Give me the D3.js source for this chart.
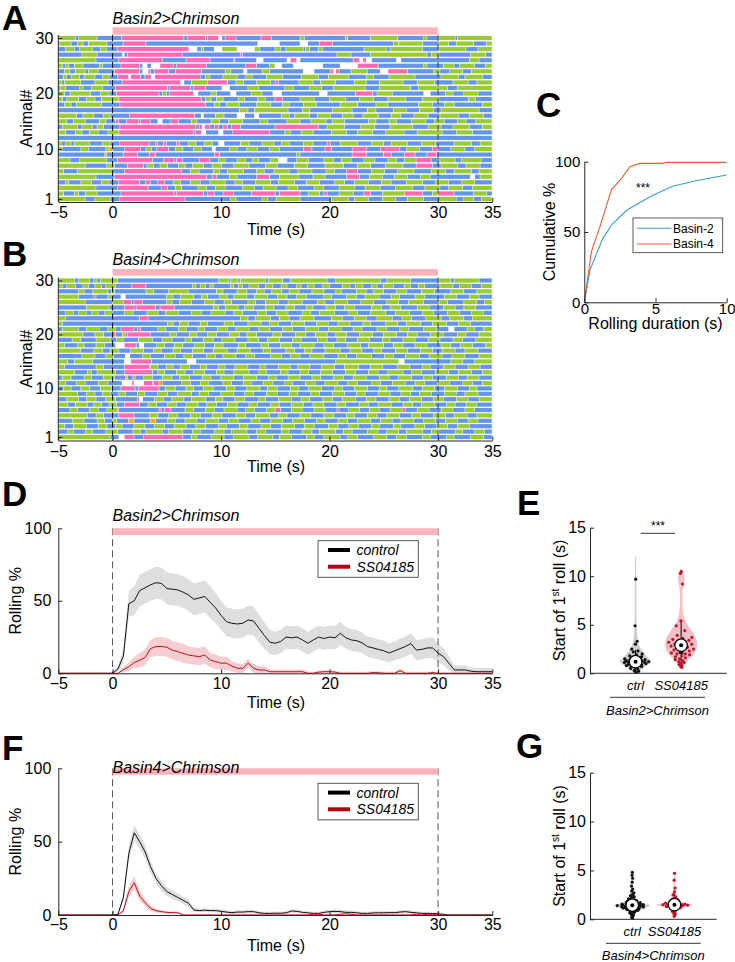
<!DOCTYPE html>
<html><head><meta charset="utf-8">
<script src="https://cdn.jsdelivr.net/npm/d3@7"></script>
<style>
body{margin:0;background:#fff}
svg{display:block}
</style></head><body>
<svg id="fig" width="735" height="962"></svg>
<script>
// ---------------- DATA ----------------
const timeTicks = [-5, 0, 10, 20, 30, 35];
const animalTicks = [1, 10, 20, 30];
const stimWindow = [0, 30];
const behaviourCodes = {g: "crawl", b: "turn", p: "roll", w: "none", o: "back-up"};

// Ethogram rows: "colour startTime" tokens, first row = animal 30
const rowsA = [
"g-5 b-3.4 g-3.1 b-1.4 p.85 b6.6 p6.9 b8.6 p8.8 w9.8 b10.1 p10.4 b11.4 p13.7 b14.7 g17.3 b17.7 g21.5 b21.7 g23.8 b26.3 g28.7 b29 g30.1 b31.6 g31.8",
"b-5 g-4.9 b-3.8 g-3.2 b-2.7 g-2.2 b-.5 p1 b3.1 w13.4 b15.4 w17.3 b18 p19.1 b20.3 g25.9 b26.4 g26.5 b28.6 g30.1 b31 g31.7 b33.3 g34.5",
"b-5 g-4.3 b-3.5 g-3 b-1.8 g-1.1 b-.5 p.45 w7.05 b7.8 g8.2 b8.4 w9.4 g10.1 w11.5 g13.1 b13.6 g15 b15.5 g16 b17.6 g17.8 b18.2 g19 b19.4 g23.2 b25.3 g25.6 b28.6 g30.1 b32.6 g33.7",
"b-5 g-2.8 b-1.4 w.95 b1.1 p1.4 b6.45 p11.8 b12 g20.7 b22 g23.8 b29 g29.4 b30.1 g33 b34.4",
"g-5 b-1.5 p.6 b4.6 p6.8 b9 p11.2 b11.3 w13.3 b13.9 w16.1 p16.4 w17 b17.3 p22.2 w22.8 p23.1 w23.4 b23.9 w26.2 b26.6 g32.9 b33.8",
"g-5 b-4.6 g-4.3 b-4 g-3.5 b-2.7 g-1.2 b-.9 p.8 b2.5 w2.8 b3.2 w3.6 p4.4 b5.6 p5.9 b8.7 p12.3 b13.3 g14.5 w15 b15.6 w16.7 b19.4 w21 p22.6 b24.5 g28.7 b29 g30.5 b31.5 g32 b33.4 g34.4",
"b-5 g-4.4 b-3.9 g-3.4 b-2.5 g-2.2 b-1.3 p.2 b2.5 w2.8 p3.3 b3.5 p3.9 b5.2 p5.8 b8.2 g10.4 b10.9 w12.1 b12.4 g13.8 b14.5 w17.6 b18.6 p20.1 w20.4 p20.6 b20.9 g22 b23.5 w24.7 p25.4 b27.2 g29.6 b30.2 g31.1 b32.3 g33.1",
"b-5 g-4.5 b-4.2 g-3.8 b-3 g-2.6 b-1.6 g-.9 b-.3 p.5 w1.5 p1.7 b2.6 p3 w3.6 p3.9 b8.1 g8.6 b9 g10.2 b11.5 g12.3 b12.9 g14.2 b15.7 g17.4 b19 g19.9 b21.8 g23.4 b24.1 g25.5 b27.9 g30.3 b31.9 g32.5 b34.1",
"g-5 b-4.7 g-4.4 b-2.9 g-1.6 b-.4 p.9 w6.3 b6.6 g7.3 p8.8 b10.6 g11.4 b12.1 g13.3 b14.6 p15 b15.3 g17.2 b18.5 g19.2 b20.6 g22.3 b23.4 g24.6 b26.8 g28.1 b29.7 g31.4 b32.8 g33.6",
"b-5 g-4.8 b-4.3 g-3 b-2.7 g-1.9 b-.9 p.3 b5.1 p5.3 b7.2 p7.5 b8.6 w10.1 b10.8 g12.5 b13.5 g15.9 b16.7 g18.2 b19.3 g20.4 b23.3 g24.6 b27.5 g28.2 b30.9 g31.8",
"g-5 b-4.4 g-3.9 b-2 g-1.1 b-.3 p.4 b4.3 g4.6 b5 p5.3 w7.5 b7.9 g9.1 b9.6 w10.9 b11.4 g12.8 b13.8 w14.8 b15.6 w19.1 b19.8 p22.4 b24 g24.4 b25.8 w28.7 b29.3 g30.7 b31.4 g32.4 b33.7",
"g-5 b-4.6 g-4.2 b-3.1 g-2.4 b-1.6 g-1 p.6 b8.2 g8.6 b9.1 g9.6 b10.2 g11.6 b12.2 g13.4 b14.1 p15 b15.7 g17.3 b18.6 g20 b21.5 g22.8 b24.1 g25.4 b27 g28.6 b30.1 g32.8 b33.5",
"b-5 g-4.4 b-3.8 g-3.3 b-1 p.7 b8.6 g9.4 b9.9 g10.5 b11.7 g13.3 b14.6 g15.7 b16.3 g17.6 b18.8 g21 b22.6 g24.3 b25.4 g28.2 b29.5 g30.6 b31.5 g34.1",
"b-5 g11.7 b12.5 g13.1 b16.2 g17.5 b18.2 g20.3 b22.1 g23.5 b24.3 g25.9 b27.1 g28.3 b29.6 g30.3 b33.8",
"g-5 b-3.3 g-2.7 b-1.7 g-.8 b-.2 p1.6 b7.6 w8.2 b8.4 g9.5 b10.3 w11.5 b12.2 w13.1 b13.5 g15.6 b16.3 g16.8 b18.2 g18.9 b20.1 g21.2 b22.2 g23.1 b24.5 g25.7 b26.6 g27.8 b29.1 g30.2 b31.9 g32.9 b34.2",
"g-5 b-4.2 g-3.6 b-2.5 g-1.2 b-.6 p.3 b.6 p1.3 b2.4 p2.6 b3.5 w4.2 b4.6 p5.4 b6.1 g7.3 b7.8 g9.1 b9.9 g10.7 b12 g13.6 b14.3 g16.1 b17.3 g18.3 b19.7 g20.3 b21.4 g23.6 b24.3 g25.5 b26.2 g27.6 b28.9 g29.7 b30.6 g31.8 b32.6 g33.5",
"b-5 g-4.6 b-3.2 g-2.8 b-1.8 g-1.4 b-.8 p.7 b7.7 p8 w8.3 p8.5 b9 p9.4 b9.8 p10.2 b10.6 p11 b11.8 p15 b19 g19.8 b21.4 g22.9 b24.2 g25.6 b27.7 g29.1 b30.3 g31.4 b32.9 g34.1",
"g-5 b-4.3 g-3.4 b-2.8 g-2.1 b-1.3 g-.4 p.6 b7.5 p7.7 w8.2 b8.6 w9.8 b10.2 p11.1 b14.5 g15.9 b16.4 g17.4 b18.5 g20.2 b21.6 g22.6 b24 g25.2 b26.9 g28.1 b30.4 g31.7 b33.2",
"b-5",
"g-5 b-4.7 g-4.3 b-3.8 g-3.5 b-2.1 g-.9 b-.2 p.7 b3.4 p4 b4.2 p4.7 b5 p5.9 b6.2 g7 b7.7 g8.5 b9.2 w9.8 b10.3 g11.8 b12.6 g13.8 b14.9 g15.6 b16.3 g17.6 b18.5 p19.8 b20.1 g21 b22.6 g23.9 b25 g25.7 b27.2 g28.5 b29.8 g31.5 b33.1 g33.9",
"g-5 b-4.6 g-2.9 b-2.2 g-.6 o-.3 b0 p1.1 b2.6 g3.1 b3.6 p4.1 b5.2 g5.8 b6.5 g7.5 b8.2 w9.2 b9.5 g10.8 b11.5 g12.4 b13.4 g14.5 b15.4 p17.6 b18.4 p19.6 b20.2 p22.1 b23.4 p24.7 b26.5 g27.1 b28.3 p29.5 b30 g31.2 b32.5 g33.4",
"b-5 o-.7 b-.5 p1 b2.3 p3.4 b4 p9.4 b9.9 g17 b17.3 p22.1 b23.4 p25 b25.7 p26.9 b27.9 p29 b29.9",
"g-5 b-3.9 g-3 b-.5 p.5 b3.7 p4.7 b5.7 p5.9 b6.5 p8 b9 g9.8 b10.4 g11.5 b12.3 g12.9 b13.5 g14.6 w15.3 b16.1 g17 b18.1 g19.5 b20.4 g21.1 b22 g23.2 b24.2 g25.4 b26.2 g26.9 p28 b29.4 g30.2 b31.6 g32.2 b34",
"g-5 b-2.5 g-.5 b.2 p1.4 b2.9 g3.2 b3.8 g4.4 b5.1 g6.1 b6.7 g7.4 b8.4 g9.2 b10.1 g11.2 b12.6 g14.1 b15.2 g16.8 b18 g19.6 b21.3 g22.6 b23.8 g25.2 b26.8 p28 b29.5 g30.3 b31.8 g32.6 b33.9",
"g-5 b-4.5 g-3.2 b0 p1.1 b6.4 g7.2 b8 g9.3 b9.9 g10.6 b12.1 g13.3 b14 g14.9 b16.3 g17.1 b18.4 g19.7 b20.5 p21.6 b22.6 g23.9 b25.1 g26.3 b27.8 g29.4 b30.7 g31.5 b33.1 g33.8",
"g-5 b-1.5 p.2 b8.7 p9.2 b9.6 g10.8 b11.5 p13.3 b14.5 g15.4 b17.2 g18.5 b19.6 p21.6 b22.8 g23.7 b24.9 g26 b27.2 g28.4 b29.3 w33 b33.4 g33.9",
"b-5 g-4.3 b-4 g-2.9 b-1.9 g-1 b-.3 p.6 b2.5 p3.1 b3.5 p4.2 b4.8 g5.6 b6.3 g7.2 b8.1 g9 b10.4 g11.3 b12 g13.2 b14.6 g15.3 b16.8 g17.9 b19.1 g20.5 b21.4 g22.3 b23.6 g24.8 b25.7 g27.1 b28.6 g29.8 b31 g32.2 b33.4",
"g-5 b-1.5 p.5 b3.3 p4.5 b5.1 g5.8 b6.4 g7.9 b8.7 g9.5 b10.4 g12 b13.1 g13.9 b15.1 g16.2 b17.1 g18.6 b19.5 g20.9 b22.3 g23.3 b24.7 g26.1 b27.7 g28.8 b30.2 g31 b32.3 g33.2",
"g-5 b-4.5 g-3.5 b-3.1 g-2.5 b-1.4 p.8 b5.7 p5.9 b8.4 p8.8 b9.4 p10.2 b11.2 p12.8 b15 p15.4 b17.3 g18.1 b19.1 p19.5 b19.8 g20.9 b22.2 p23.2 b23.8 g24.9 p26.9 b28.6 g29.5 p30 b31.5 g33.3 b34.5",
"g-5 b-2.5 g-1.6 b-.2 p.7 b6.7 g10.9 b11.4 g13.8 b14.3 g15.1 b17.3 g20.2 b21.8 g22.3 b23.6 g24.9 b26.1 g27.2 b28.7 g30 b31.7 g32.4 b33.3 g34"
];

const rowsB = [
"g-5 b-3.5 g-3.1 b-2.1 g-1.7 b-1.4 g-1.1 b.5 g9.8 b10.7 g10.9 b11.6 g11.8 b14.1 g14.4 b15.7 g16.4 b19.8 g20.6 b24.7 g25.3 b27.5 g30.1 b31.2 g31.5 b33.8",
"g-5 b-4.6 g-4.2 b-3.4 g-2.7 b-2.2 g-1.6 b-1 g-.6 b.3 p1.8 b3.1 g7.4 b7.7 g8.1 b8.6 g9 b9.3 g10.9 b11.2 g11.6 b12 g12.6 b13.5 g14.1 b14.8 g15.6 b16.1 g17 b17.4 g18 b18.6 g19.4 b20 g21.2 b21.9 g22.4 b23.1 g23.9 b24.4 g25 b25.9 g26.9 b27.5 g28.2 b28.8 g30.2 b31.4 g32 b33.1 g34",
"b-5 g-3.1 b-2.6 g-1.8 b-.4 g-.1 b.2 g3.1 b3.8 g5.2 b7 g9.6 b10.2 g11.5 b12.4 g13.3 b14 g14.7 b15.6 g16.3 b17.2 g18.4 b19.5 g20.6 b21.1 g22.5 b23.4 g24.1 b25 g26.2 b27.1 g28.5 b29.7 g31.2 b32.4 g33.6",
"g-5 b-3.1 p-1.7 b-1.5 g-.4 b0 w.8 b1.2 g5 b5.6 g6.3 b7.5 g8.2 b8.8 g9.9 b10.6 g11.2 b12.4 g13.1 b14.3 g15.2 b16.1 g17 b17.9 g19.5 b20.2 g21.6 b22.5 g23.3 b24.6 g25.7 b26.5 g27.9 b28.8 g30.6 b31.7 g32.9 b33.8",
"g-5 b-2.5 g0 p1 b1.75 p2 b2.8 g5 b5.5 g6.2 b7.3 g8.5 b9.4 g10.3 b11 g12.5 b13.2 g14.1 b15.3 g16.2 b17.5 g18.9 b19.6 g20.5 b21.7 g22.9 b24.1 g25.3 b26.4 g27.3 b28.7 g30.1 b30.9 g32.4 b33.6 g34.3",
"b-5 g-2.4 b-.3 p1.1 b2 p2.2 b4 p4.4 b5.7 g9.3 b9.8 g10.4 b11.6 g12.2 b13 g14.1 b14.9 g16 b16.8 g17.9 b18.5 g19.7 b20.6 g21.4 b22.3 g23.9 b24.8 g25.6 b26.6 g28.1 b29.2 g30.5 b31.6 g32.4 b33.5",
"b-5 g-4.3 b-3.6 g-3.1 b-2.4 g-1.9 b-1.3 g-.7 b0 g1.1 b1.9 g3.2 b4.2 g4.9 b6.1 g7.3 b8.2 g9.1 b10.4 g11.2 b12 g13.4 b14.2 g15.1 b16.2 g17.5 b18.3 g19.1 b20.5 g21.8 b22.6 g23.8 b25.2 g26.1 b27.4 g28.6 b29.6 g30.9 b32 g33.1 b34.2",
"g-5 b-4.3 p2.5 b3.3 g11.8 b12.5 g13.2 b14.6 g15.4 b16.3 g17.3 b18.6 g20.2 b21.2 g22.3 b23.4 g24.4 b25.8 g26.7 b27.6 g28.9 b30.3 g31.1 b32.4 g33.2",
"g-5 b-4.6 g5.1 b5.6 g6.2 b7 g8.1 b8.8 g10.3 b11.2 g12.5 b13.7 g14.5 b15.3 g16.5 b17.7 g18.8 b19.9 g20.8 b21.9 g23.1 b23.8 g25.2 b26.3 g27.1 b28.4 g29.5 b30.8 g31.9 b33",
"b-5 g-4.6 b-3.1 g-2.4 b-1.2 g-.4 b.3 p.8 b2 p2.3 b2.6 g4.2 b4.9 g6.1 b6.8 g7.9 b8.5 g9.7 b10.6 g11.4 b12.6 g13.5 b14.5 g15.7 b16.6 g17.8 b19 g19.9 b21.1 g22.2 b23 g24.4 b25.3 g26.5 b27.3 g28.7 b29.9 w31 b31.5 g32.7 b33.4 g34.2",
"g-5 b-2.7 g-1.6 b-.8 p0 b.3 o.9 b1.2 p1.4 b3.5 g5.3 b5.9 g7.1 b7.8 g8.8 b9.6 g10.8 b11.7 g12.4 b13.3 g14.8 b15.6 g16.9 b17.8 g18.7 b19.8 g20.6 b21.6 g22.8 b24 g25 b26.2 g27.2 b28.1 g29.3 b30.5 g31.8 b32.6 g33.8",
"b-5 g-3.7 b-2.9 g-1.5 b-.2 g.4 b1 g2.4 b3.7 g4.6 b5.5 g6.7 b7.3 g8.4 b9.3 g10.1 b11.3 g12.5 b13.5 g14.3 b15.4 g16.6 b17.4 g18.9 b19.8 g20.7 b21.5 g22.6 b23.7 g24.9 b25.6 g26.8 b27.9 g29.1 b30.2 g31.4 b32.3 g33.5",
"g-5 b-4.4 g-3.2 b-2.6 g-1.5 b-.7 w.3 p1.1 b2.2 w2.5 b2.9 g4.1 b4.8 g5.7 b6.5 g7.6 b8.5 g9.4 b10.2 g11.6 b12.3 g13.7 b14.4 g15.5 b16.5 g17.3 b18.6 g19.5 b20.4 g21.7 b22.9 g23.6 b25 g25.9 b26.8 g27.9 b29 g30.3 b31.2 g32.1 b33.2 g34.4",
"g-5 b-2.9 g-1.7 b-.9 g-.2 b.6 g1.7 b2.9 g3.8 b4.5 g5.6 b6.3 g7.4 b8.4 g9.3 b10.6 g11.5 b12.7 g13.9 b14.6 g16 b16.8 g17.7 b18.4 g19.6 b21 g21.9 b23 g24.1 b24.8 g26.1 b27.2 g28.4 b29.5 g30.4 b31.6 g32.5 b33.7",
"b-5 g-2.8 b-1.6 g-.6 b.1 w1.2 b1.6 g2.8 b3.5 g4.8 b5.8 g6.6 b7.4 g8.7 b9.5 g10.2 b11.4 g12.3 b13.1 g14.6 b15.6 g16.4 b17.3 g18.2 b19.5 g20.8 b21.6 g22.5 b23.9 g25.1 b25.9 g27 b28.3 g29.2 b30.4 g31.3 b32.5 g33.8",
"g-5 b-4.1 g-3.5 b-1.8 w1.1 p1.7 b3.6 w6.9 b7.7 g20.6 w26.4 b26.9 g31.2 b32.3 g33.4",
"g-5 b-4.4 g-1.5 b-.8 p1.1 b3.4 g3.5 b4.2 g5 b5.6 g6.3 b7.1 g8.1 b8.7 g9.8 b10.4 g11.3 b12.5 g13.6 b14.1 g15.3 b16.4 g17.1 b18.2 g19.3 b20.5 g21.4 b22.7 g23.8 b24.9 g26.3 b27.4 g28.6 b29.3 g30.5 b31.6 g32.8 b33.9",
"g-5 b-3.5 g-2.3 b-1.9 g-1.4 b.3 p1.1 b3.7 g4.2 b4.8 g5.9 b6.7 g7.5 b8.5 g9.6 b10.3 g11.2 b12.6 g13.5 b14.2 g15.5 b16.2 g17.3 b18.1 g19.2 b20.3 g21.5 b22.4 g23.6 b24.5 g25.4 b26.8 g27.6 b28.5 g29.8 b31 g31.9 b33.1 g34.1",
"b-5 g-4.6 b-3.8 g-2.6 b-1.9 g-.8 b.2 o1.2 b1.4 o1.9 b2.1 g2.9 b3.7 g4.6 b5.5 g6.2 b7.1 g8.3 b9.1 g10 b11.2 g12.1 b13.3 g14.4 b15.1 g16.2 b17.3 g18.4 b19.2 g20.4 b21.3 g22.2 b23.4 g24.6 b25.5 g26.4 b27.6 g28.7 b29.5 g30.8 b31.9 g32.7 b33.8",
"g-5 b-4.3 g-3.3 b-2.5 g-1.3 b-.4 w.9 p1.8 w2 p2.9 b3.7 p3.8 o4.3 b4.6 g6.4 b7.2 g8.1 b8.9 g10.2 b11 g12.1 b12.8 g13.9 b14.8 g15.9 b16.6 g17.8 b18.7 g19.6 b20.8 g21.7 b22.6 g23.9 b24.7 g25.8 b27 g27.9 b28.8 g30 b31.1 g32.3 b33.2 g34.1",
"b-5 g-4.5 b-3.8 g-2.9 b-2.1 g-1.1 b-.1 p.8 b2.1 p2.4 b4.3 g4.9 b5.8 g6.8 b7.5 g8.4 b9.3 g10.5 b11.3 g12.4 b13.6 g14.3 b15.2 g16.4 b17.2 g18.1 b19.3 g20.5 b21.2 g22.3 b23.5 g24.6 b25.3 g26.4 b27.7 g28.6 b29.7 g30.6 b31.8 g32.9 b33.6",
"g-5 b-3.2 g-2.4 b-1.6 g-.9 b-.2 g.6 b1.2 g2.3 b3 g4.2 b5.1 g6 b7.3 g8 b8.9 g10 b11.2 g12.2 b13 g14.2 b15.2 g16.3 b17.1 g18.3 b19.1 g20.3 b21.4 g22.5 b23.3 g24.5 b25.6 g26.6 b27.5 g28.3 b29.4 g30.6 b31.7 g32.5 b33.7",
"b-5 g-4.2 b-3.1 g-2.4 b-1.5 g-.6 b.3 p2.3 w2.5 b2.8 g3.9 b4.7 g5.5 b6.6 g7.3 b8.6 g9.5 b10.2 g11.3 b12.2 g13.5 b14.1 g15.3 b16.5 g17.4 b18.2 g19.4 b20.3 g21.2 b22.4 g23.4 b24.3 g25.5 b26.5 g27.4 b28.5 g29.6 b30.5 g31.7 b32.8 g33.8",
"g-5 b-4.1 g-3.4 b-2.3 g-1.7 b-1 g-.3 b.4 p1.1 b2.5 g3.3 b4.1 g5.1 b5.9 g6.8 b7.9 g8.7 b9.6 g10.6 b11.5 g12.6 b13.4 g14.6 b15.4 g16.5 b17.6 g18.5 b19.5 g20.7 b21.5 g22.8 b23.6 g24.5 b25.7 g26.8 b27.7 g28.5 b29.7 g30.8 b31.6 g32.6 b33.6",
"b-5 g-3.9 b-3.2 g-2.1 b-1.3 g-.5 p.45 b.6 p4.3 b4.5 p4.8 b5.4 g6.7 b7.5 g8.6 b9.4 g10.3 b11.5 g12.3 b13.1 g14.2 p15 b15.5 g16.5 b17.5 g18.6 b19.6 p20.7 b20.9 g21.8 b22.8 g23.7 b24.6 g25.6 p26.7 b27 g28.1 b29.2 g30.3 b31.4 g32.5 b33.4",
"g-5 b-2.3 g-1.5 b-.8 p.6 b2 g3.4 b4.2 g5.2 b6 g7.2 b8.1 g9.2 b10.1 g11.4 b12.3 g13.2 b14.5 g15.3 b16.1 g17.3 b18.3 g19.5 b20.4 g21.6 b22.3 g23.5 b24.4 g25.3 b26.5 g27.6 b28.4 g29.6 b30.7 g31.5 b32.7 g33.6",
"b-5 g-3.7 b-2.6 g-1.4 b-.7 g0 b.4 o1.5 b2 o3.5 b4 g5.1 b5.8 g6.7 b7.8 g8.6 b9.8 g10.7 b11.6 g12.8 b13.6 g14.6 b15.7 g16.6 b17.7 g18.8 b19.6 g20.8 b21.7 g22.6 b23.8 g24.7 b25.8 g26.6 b27.8 g28.7 b29.8 g30.7 b31.8 g32.8 b33.7",
"g-5 b-4.4 g-3.6 b-2.4 g-1.3 b-.5 g.3 b.9 g2 b3 g3.9 b4.8 g5.7 b6.8 g7.7 b8.6 g9.8 b10.5 g11.7 b12.5 g13.7 b14.6 g15.6 b16.8 g17.7 b18.6 g19.9 b20.8 g21.8 b22.7 g23.9 b24.6 g25.9 b26.6 g27.9 b28.8 g29.9 b30.9 g31.8 b32.9",
"b-5 g-4.1 b-3.6 g-2.5 b-1.8 g-.6 b.5 g1.9 b2.6 g3.1 b4.6 g5.2 b6.5 g7.4 b8.1 g9.4 b10.3 g11 b12.4 g13.3 b14.1 g15.6 b16.3 g17.5 b18.4 g19.1 b20.6 g21.3 b22.1 g23.5 b24.5 g25.3 b26.4 g27.1 b28.6 g29.4 b30.1 g31.6 b32.3 g33.4 b34.3",
"g-5 b-.2 w.6 p1.1 b2 p2.9 b6.5 g7.3 b7.8 g9.1 b10.3 g11.2 b12.6 g13.4 b14.8 g15.4 b16.5 g17.9 b18.6 g19.5 b21 g21.7 b22.6 g24.1 b25.3 g26.2 b27.1 g28.6 b29.3 g30.8 b31.5 g33 b34.2"
];

// Panel C: cumulative distributions of rolling duration
const durB2 = [0, 0.4, 1.3, 2.0, 3.0, 4.0, 4.85, 6.25, 8.1, 10];
const cumB2 = [0, 23, 45.5, 56, 65.6, 71.5, 76.3, 82.7, 87, 90.5];
const durB4 = [0, 0.5, 1.1, 1.9, 2.6, 3.2, 3.9, 5.5, 5.8, 10];
const cumB4 = [0, 36, 53.8, 80, 88, 96.4, 98.8, 98.8, 99.5, 99.5];

// Panels D/F: rolling %, sampled every 0.5 s from -5 to 35 s
const sampleStep = 0.5;
const dCtrl = [0,0,0,0,0,0,0,0,0,0,
 0,3,12,48,50,57,59,61,62.5,62, 58.5,58,57.5,56,54,51,52,53,49,45,
 40,35.6,34.5,34,34.5,36.8,36,31,26,21.5, 20.7,22,25,24.5,25,23,20.7,23,25,24,
 25,24.5,27.6,24.5,23,22.5,21,18.4,17.5,16.5, 15.5,14,15.5,17,18.5,20.5,16,16.5,17.5,17.5,
 14,11.5,7,2.3,2.3,2.3,1.5,1.1,1.1,1.1,1.1];
const dCtrlSem = [0,0,0,0,0,0,0,0,0,0,
 0,2,5,9,10,11,11,11,11,11, 11,11,11,11,11,11,11,11,11,10.5,
 10,10,10,10,10,10,10,9.5,9,8.5, 8,8,8,8,8,8,8,8,8,8,
 8,8,8,7.5,7.5,7.5,7,7,7,7, 7,6.5,6.5,7,7,7,7,7,7,7,
 6.5,6,5,3,3,3,2.5,2.5,2.5,2.5,2.5];
const dExp = [0,0,0,0,0,0,0,0,0,0,
 0,0,2.5,4.5,7.5,9,11,17,18.4,18.5, 18,16,15,13.8,12.6,12,11.5,12.6,9.2,8,
 7,7,5,3.5,3.4,7,3.4,2.3,2.3,1.1, 1.1,1.1,1.1,1.1,1.1,1.1,0,0,0.8,1.1,
 1.1,0.8,0,0,0,0,0,0,0.5,0.4, 0,0,0,1.8,0,0,0,0,0,0.5,
 0,0,0,0,0,0,0,0,0,0,0];
const dExpSem = [0,0,0,0,0,0,0,0,0,0,
 0,0,2,3,4,5,5.5,6,6.5,6.5, 6.5,6.5,6.5,6.5,6,6,6,6,5,5,
 4.5,4.5,3.5,3.5,3,3,3,2.5,2.5,1.5, 1.5,1.5,1.5,1.5,1.5,1.5,1,1,1,1,
 1,1,1,1,1,1,1,1,1,1, 1,1,1,1.5,1,1,1,1,1,1,
 0.5,0.5,0.5,0.5,0.5,0.5,0.5,0.5,0.5,0.5,0.5];
const fCtrl = [0,0,0,0,0,0,0,0,0,0,
 0,0.5,12,42,56,50,43,33,25,20, 16,14,12,10,8,3.4,3,3.3,3,3,
 2.5,2,1.6,2,2,2.3,2.3,1.5,1.1,1.1, 1.2,1.2,1.5,2.7,2.5,1.8,1.5,1.1,1.1,1.8,
 2.3,2.5,2.3,1.8,1.8,1.5,1.1,1.1,1.4,1.5, 1.5,1.6,1.6,2,2.3,1.8,1.5,1.1,1.1,1,
 0.8,0.5,0,0,0,0,0,0,0,0,0];
const fCtrlSem = [0,0,0,0,0,0,0,0,0,0,
 0,0.5,3,5,5,5,4.5,4,3.5,3.5, 3,3,3,2.5,2.5,1.5,1.2,1.2,1.2,1.2,
 1.2,1.2,1.2,1.2,1.2,1.2,1.2,1.2,1.2,1.2, 1.2,1.2,1.2,1.2,1.2,1.2,1.2,1.2,1.2,1.2,
 1.2,1.2,1.2,1.2,1.2,1.2,1.2,1.2,1.2,1.2, 1.2,1.2,1.2,1.2,1.2,1.2,1.2,1.2,1.2,1.2,
 1,0.5,0,0,0,0,0,0,0,0,0];
const fExp = [0,0,0,0,0,0,0,0,0,0,
 0,0,3,16,22,13,8.4,4.5,3,2.3, 1.8,1.6,1.6,0,0,0,0,0,0,0,
 0,0,0,0,0,0,0,0,0,0, 0,0,0,0,0,0,0,0.5,0.5,0,
 0,0,0.5,0.8,0.5,0,0,0,0,0, 0,0,0,0,0,0,0.5,0,0.5,0.5,
 0,0,0,0,0,0,0,0,0,0,0];
const fExpSem = [0,0,0,0,0,0,0,0,0,0,
 0,0,1.5,4,4.5,3.5,2.5,2,1.5,1, 1,1,1,0.5,0.5,0.5,0.5,0.5,0.5,0.5,
 0.5,0.5,0.5,0.5,0.5,0.5,0.5,0.5,0.5,0.5, 0.5,0.5,0.5,0.5,0.5,0.5,0.5,0.5,0.5,0.5,
 0.5,0.5,0.5,0.5,0.5,0.5,0.5,0.5,0.5,0.5, 0.5,0.5,0.5,0.5,0.5,0.5,0.5,0.5,0.5,0.5,
 0,0,0,0,0,0,0,0,0,0,0];

// Panels E/G: start of 1st roll (s)
const groupNames = ["ctrl", "SS04185"];
const eCtrlPts = [9.7,4.9,3.3,3.0,2.5,2.3,2.2,2.0,1.9,1.8,1.7,1.6,1.5,1.5,1.4,1.4,1.35,1.3,1.3,1.25,1.2,1.2,1.2,1.15,1.1,1.1,1.05,1.0,1.0,0.95,0.9,0.9,0.85,0.8,0.8,0.75,0.7,0.6,0.5,0.4,0.3,0.2,0.1];
const eExpPts = [10.5,10.3,9.2,5.4,4.9,4.4,3.9,3.7,3.6,3.5,3.4,3.3,3.2,3.1,3.0,3.0,2.9,2.8,2.7,2.6,2.5,2.5,2.4,2.3,2.2,2.1,2.0,2.0,1.9,1.8,1.7,1.6,1.5,1.4,1.3,1.2,1.1,1.0,0.9,0.8,0.7,0.6];
const gCtrlPts = [4.8,4.5,4.2,3.8,3.4,3.1,2.9,2.7,2.5,2.4,2.3,2.2,2.1,2.0,2.0,1.9,1.9,1.8,1.8,1.7,1.7,1.7,1.6,1.6,1.6,1.55,1.5,1.5,1.5,1.45,1.45,1.4,1.4,1.4,1.4,1.35,1.35,1.3,1.3,1.3,1.3,1.25,1.25,1.2,1.2,1.2,1.15,1.1,1.1,1.05,1.0,1.0,0.95,0.9,0.9,0.85,0.8,0.75,0.7,0.65,0.6,0.5,0.4,0.3,0.2,0.1];
const gExpPts = [4.7,4.0,3.2,2.8,2.5,2.3,2.1,2.0,1.9,1.8,1.75,1.7,1.65,1.6,1.6,1.55,1.5,1.5,1.5,1.45,1.45,1.4,1.4,1.4,1.35,1.3,1.3,1.25,1.2,1.2,1.1,1.0,0.9,0.8,0.7,0.6,0.5,0.4,0.3];
// violin outlines: value and relative density
const eCtrlVy = [0,0.3,0.7,1.0,1.2,1.5,2.0,2.5,3.0,4.0,5.0,6.0,8.0,10.0,12.0];
const eCtrlVw = [0.15,0.3,0.6,0.9,1.0,0.85,0.55,0.35,0.2,0.1,0.07,0.05,0.05,0.05,0.03];
const eExpVy = [0.6,1.0,1.5,2.0,2.5,3.0,3.5,4.0,4.5,5.0,5.5,6.0,7.0,8.0,9.0,9.5,10.0,10.5];
const eExpVw = [0.05,0.25,0.5,0.8,0.95,1.0,0.95,0.8,0.6,0.4,0.25,0.15,0.08,0.08,0.12,0.2,0.2,0.05];
const gCtrlVy = [0.1,0.4,0.8,1.1,1.4,1.7,2.0,2.5,3.0,4.0,4.8];
const gCtrlVw = [0.02,0.08,0.25,0.6,1.0,0.55,0.3,0.15,0.08,0.04,0.02];
const gExpVy = [0.3,0.6,1.0,1.3,1.5,1.7,2.0,2.5,3.0,4.0,4.7];
const gExpVw = [0.02,0.08,0.2,0.6,1.0,0.5,0.25,0.12,0.06,0.04,0.02];
// box stats [lowWhisker, q1, median, q3, highWhisker]
const eCtrlBox = [0.1, 0.8, 1.2, 1.6, 2.4];
const eExpBox = [0.6, 2.0, 2.9, 3.5, 5.4];
const gCtrlBox = [0.1, 1.1, 1.45, 1.8, 2.7];
const gExpBox = [0.3, 1.2, 1.5, 1.8, 2.6];

// ---------------- DRAWING ----------------
const svg = d3.select("#fig");
const FONT = "'Liberation Sans', Arial, Helvetica, sans-serif";
const AXC = "#262626";
const STIM = "#ffb2ba";
const ethoColors = {g: "#99cc33", b: "#6495ed", p: "#ff69b4", w: "#ffffff", o: "#ffa500"};
const xTime = d3.scaleLinear().domain([-5, 35]).range([58.3, 492.3]);

function txt(g, x, y, s, o = {}) {
  const t = g.append("text").attr("x", x).attr("y", y).text(s)
    .attr("font-family", FONT).attr("font-size", o.size || 16).attr("fill", "#000")
    .attr("text-anchor", o.anchor || "start");
  if (o.italic) t.attr("font-style", "italic");
  if (o.bold) t.attr("font-weight", "bold");
  if (o.rotate) t.attr("transform", `rotate(-90,${x},${y})`);
  return t;
}
function styleAxis(a, fs) {
  a.attr("font-family", FONT).attr("font-size", fs);
  a.selectAll("path,line").attr("stroke", AXC);
  a.selectAll("text").attr("fill", "#000");
}
function parseRow(str) {
  const segs = str.trim().split(/\s+/).map(t => ({c: t[0], s: +t.slice(1)}));
  segs.forEach((d, i) => d.e = i < segs.length - 1 ? segs[i + 1].s : 35);
  return segs;
}

function ethogram(rows, o) {
  const y = d3.scaleLinear().domain([1, 30]).range([o.yBot, o.yTop]);
  const g = svg.append("g");
  rows.forEach((str, k) => {
    const animal = 30 - k;
    g.append("g").selectAll("rect").data(parseRow(str)).join("rect")
      .attr("x", d => xTime(d.s)).attr("y", y(animal) - 2.1)
      .attr("width", d => Math.max(0.4, xTime(d.e) - xTime(d.s) - 0.5)).attr("height", 4.2)
      .attr("fill", d => ethoColors[d.c]);
  });
  stimWindow.forEach((t, i) => g.append("line").attr("x1", xTime(t)).attr("x2", xTime(t))
    .attr("y1", y(30) - 3).attr("y2", o.axisY).attr("stroke", i ? "#444" : "#111")
    .attr("stroke-dasharray", "6,3"));
  g.append("rect").attr("x", xTime(stimWindow[0])).attr("width", xTime(stimWindow[1]) - xTime(stimWindow[0]))
    .attr("y", o.barY0).attr("height", o.barY1 - o.barY0).attr("fill", STIM);
  txt(g, xTime(0), o.titleY, o.title, {italic: true});
  const xa = g.append("g").attr("transform", `translate(0,${o.axisY})`)
    .call(d3.axisBottom(xTime).tickValues(timeTicks).tickSizeInner(-4).tickSizeOuter(0).tickPadding(5));
  styleAxis(xa, 16);
  const ya = g.append("g").attr("transform", `translate(${xTime(-5)},0)`)
    .call(d3.axisLeft(y).tickValues(animalTicks).tickSizeInner(-4).tickSizeOuter(0).tickPadding(5));
  ya.select(".domain").remove();
  styleAxis(ya, 16);
  g.append("line").attr("x1", xTime(-5)).attr("x2", xTime(-5)).attr("y1", y(30) - 3).attr("y2", o.axisY).attr("stroke", AXC);
  txt(g, 276, o.timeY, "Time (s)", {anchor: "middle"});
  txt(g, 32, (o.yTop + o.yBot) / 2, "Animal#", {anchor: "middle", rotate: true});
  txt(g, 2, o.letterY, o.letter, {size: 35, bold: true});
}

ethogram(rowsA, {yTop: 38, yBot: 199, axisY: 202, barY0: 27.3, barY1: 34.7, title: "Basin2>Chrimson", titleY: 24,
  timeY: 234.5, letter: "A", letterY: 30});
ethogram(rowsB, {yTop: 280.5, yBot: 437, axisY: 440.5, barY0: 269, barY1: 275.7, title: "Basin4>Chrimson", titleY: 265,
  timeY: 471.5, letter: "B", letterY: 266});

// ---- Panel C ----
(function () {
  const g = svg.append("g");
  const x = d3.scaleLinear().domain([0, 10]).range([584.3, 726.7]);
  const y = d3.scaleLinear().domain([0, 100]).range([302.3, 161.7]);
  const line = d3.line().x(d => x(d[0])).y(d => y(d[1]));
  g.append("path").attr("d", line(d3.zip(durB2, cumB2))).attr("fill", "none").attr("stroke", "#3a9ad9").attr("stroke-width", 1.1);
  g.append("path").attr("d", line(d3.zip(durB4, cumB4))).attr("fill", "none").attr("stroke", "#e2622f").attr("stroke-width", 1.1);
  const xa = g.append("g").attr("transform", "translate(0,302.3)")
    .call(d3.axisBottom(x).tickValues([0, 5, 10]).tickSizeInner(-4).tickSizeOuter(0).tickPadding(1));
  styleAxis(xa, 15);
  const ya = g.append("g").attr("transform", "translate(584.3,0)")
    .call(d3.axisLeft(y).tickValues([0, 50, 100]).tickSizeInner(-4).tickSizeOuter(0).tickPadding(4));
  styleAxis(ya, 15);
  g.append("rect").attr("x", 633).attr("y", 218).attr("width", 89.7).attr("height", 34.7)
    .attr("fill", "#fff").attr("stroke", "#333").attr("stroke-width", 0.8);
  [["Basin-2", "#3a9ad9", 228.3], ["Basin-4", "#e2622f", 244]].forEach(([s, c, yy]) => {
    g.append("line").attr("x1", 637).attr("x2", 671.5).attr("y1", yy).attr("y2", yy).attr("stroke", c).attr("stroke-width", 1.1);
    txt(g, 673, yy + 4.3, s, {size: 12});
  });
  txt(g, 636, 192, "***", {size: 12});
  txt(g, 555, 232, "Cumulative %", {anchor: "middle", rotate: true});
  txt(g, 655.5, 329, "Rolling duration (s)", {anchor: "middle"});
  txt(g, 536, 117, "C", {size: 35, bold: true});
})();

// ---- Panels D / F ----
function tracePanel(ctrl, ctrlSem, exp, expSem, o) {
  const g = svg.append("g");
  const y = d3.scaleLinear().domain([0, 100]).range([o.yBot, o.yTop]);
  const tAt = i => -5 + i * sampleStep;
  const band = (v, s) => d3.area().x((d, i) => xTime(tAt(i)))
    .y0((d, i) => y(Math.max(0, v[i] - s[i]))).y1((d, i) => y(Math.min(100, v[i] + s[i])))(v);
  const ln = v => d3.line().x((d, i) => xTime(tAt(i))).y(d => y(d))(v);
  g.append("path").attr("d", band(ctrl, ctrlSem)).attr("fill", "#dedede");
  g.append("path").attr("d", band(exp, expSem)).attr("fill", "#f5c4c8").attr("opacity", 0.85);
  stimWindow.forEach(t => g.append("line").attr("x1", xTime(t)).attr("x2", xTime(t))
    .attr("y1", y(100)).attr("y2", y(0)).attr("stroke", "#555").attr("stroke-dasharray", "7,4"));
  g.append("path").attr("d", ln(ctrl)).attr("fill", "none").attr("stroke", "#111").attr("stroke-width", 1);
  g.append("path").attr("d", ln(exp)).attr("fill", "none").attr("stroke", "#c0101c").attr("stroke-width", 1);
  g.append("rect").attr("x", xTime(stimWindow[0])).attr("width", xTime(stimWindow[1]) - xTime(stimWindow[0]))
    .attr("y", y(100)).attr("height", o.barH).attr("fill", STIM);
  txt(g, xTime(0), o.titleY, o.title, {italic: true});
  const xa = g.append("g").attr("transform", `translate(0,${y(0)})`)
    .call(d3.axisBottom(xTime).tickValues(timeTicks).tickSizeInner(-4).tickSizeOuter(0).tickPadding(4));
  styleAxis(xa, 16);
  const ya = g.append("g").attr("transform", `translate(${xTime(-5)},0)`)
    .call(d3.axisLeft(y).tickValues([0, 50, 100]).tickSizeInner(-4).tickSizeOuter(0).tickPadding(7));
  styleAxis(ya, 16);
  // legend
  g.append("rect").attr("x", 318).attr("y", o.legY).attr("width", 100.3).attr("height", 36.6)
    .attr("fill", "#fff").attr("stroke", "#444").attr("stroke-width", 0.9);
  [["control", "#000", 9.3], ["SS04185", "#b00010", 26]].forEach(([s, c, dy]) => {
    g.append("line").attr("x1", 328).attr("x2", 350).attr("y1", o.legY + dy).attr("y2", o.legY + dy)
      .attr("stroke", c).attr("stroke-width", 4);
    txt(g, 356.5, o.legY + dy + 5, s, {size: 14, italic: true});
  });
  txt(g, 276, o.timeY, "Time (s)", {anchor: "middle"});
  txt(g, 21, (o.yTop + o.yBot) / 2, "Rolling %", {anchor: "middle", rotate: true});
  txt(g, 2, o.letterY, o.letter, {size: 35, bold: true});
}
tracePanel(dCtrl, dCtrlSem, dExp, dExpSem, {yTop: 528.3, yBot: 673.3, barH: 6.7, titleY: 521, title: "Basin2>Chrimson",
  legY: 540.7, timeY: 708, letter: "D", letterY: 506});
tracePanel(fCtrl, fCtrlSem, fExp, fExpSem, {yTop: 768.3, yBot: 915, barH: 6.4, titleY: 772.5, title: "Basin4>Chrimson",
  legY: 783.3, timeY: 951, letter: "F", letterY: 760});

// ---- Panels E / G ----
function violinPanel(groups, o) {
  const g = svg.append("g");
  const y = d3.scaleLinear().domain([0, 15]).range([o.yBot, o.yTop]);
  const x = d3.scalePoint().domain(groupNames).range([590, o.xEnd]).padding(1);
  const w = d3.scaleLinear().domain([0, 1]).range([0, o.maxW]);
  groups.forEach((grp, gi) => {
    const cx = x(groupNames[gi]);
    const prof = d3.zip(grp.vy, grp.vw).map(([v, r]) => ({v, r}));
    const area = d3.area().curve(d3.curveCatmullRom.alpha(0.5))
      .y(d => y(d.v)).x0(d => cx - w(d.r)).x1(d => cx + w(d.r));
    g.append("path").attr("d", area(prof)).attr("fill", grp.fill).attr("opacity", grp.op);
    const hw = v => {
      for (let i = 0; i < prof.length - 1; i++) {
        if (v >= prof[i].v && v <= prof[i + 1].v) {
          const f = (v - prof[i].v) / (prof[i + 1].v - prof[i].v);
          return prof[i].r + f * (prof[i + 1].r - prof[i].r);
        }
      }
      return 0;
    };
    const [lo, q1, med, q3, hi] = grp.box;
    g.append("line").attr("x1", cx).attr("x2", cx).attr("y1", y(lo)).attr("y2", y(hi)).attr("stroke", "#000").attr("stroke-width", 1);
    g.selectAll(null).data(grp.pts).enter().append("circle")
      .attr("cx", (v, i) => cx + w(hw(v)) * 0.85 * ((((i + 1) * 0.6180339) % 1) * 2 - 1))
      .attr("cy", v => y(v)).attr("r", 1.6).attr("fill", grp.dot);
    g.append("rect").attr("x", cx - 2.2).attr("width", 4.4).attr("y", y(q3)).attr("height", y(q1) - y(q3)).attr("fill", "#000");
    g.append("circle").attr("cx", cx).attr("cy", y(med)).attr("r", 6.3).attr("fill", "#fff").attr("stroke", "#000").attr("stroke-width", 1.3);
    g.append("circle").attr("cx", cx).attr("cy", y(med)).attr("r", 2).attr("fill", "#000");
    txt(g, cx, o.catY, groupNames[gi], {size: 13, italic: true, anchor: "middle"});
  });
  g.append("line").attr("x1", 590).attr("x2", o.xEnd).attr("y1", y(0)).attr("y2", y(0)).attr("stroke", AXC);
  const ya = g.append("g").attr("transform", "translate(590,0)")
    .call(d3.axisLeft(y).tickValues([0, 5, 10, 15]).tickSizeInner(-4).tickSizeOuter(0).tickPadding(4));
  styleAxis(ya, 16);
  g.append("line").attr("x1", o.ulX0).attr("x2", o.ulX1).attr("y1", o.ulY).attr("y2", o.ulY).attr("stroke", "#333");
  txt(g, (o.ulX0 + o.ulX1) / 2, o.genoY, o.geno, {size: 13, italic: true, anchor: "middle"});
  const lab = txt(g, 565, (o.yTop + o.yBot) / 2, "", {anchor: "middle", rotate: true});
  lab.append("tspan").text("Start of 1");
  lab.append("tspan").text("st").attr("font-size", 10).attr("dy", -6);
  lab.append("tspan").text(" roll (s)").attr("dy", 6);
  if (o.sig) {
    g.append("line").attr("x1", 640.7).attr("x2", 675).attr("y1", o.sig).attr("y2", o.sig).attr("stroke", "#333");
    txt(g, 658, o.sig - 3, "***", {size: 12, anchor: "middle"});
  }
  txt(g, o.letterX, o.letterY, o.letter, {size: 35, bold: true});
}
violinPanel([
  {vy: eCtrlVy, vw: eCtrlVw, pts: eCtrlPts, box: eCtrlBox, fill: "#c4c4c4", op: 0.85, dot: "#111"},
  {vy: eExpVy, vw: eExpVw, pts: eExpPts, box: eExpBox, fill: "#eeb0b9", op: 0.8, dot: "#c4122a"}
], {yTop: 527.7, yBot: 673.3, xEnd: 726.7, maxW: 16, catY: 690, ulX0: 610, ulX1: 705, ulY: 697.3,
  geno: "Basin2>Chrimson", genoY: 715, sig: 533.3, letter: "E", letterX: 517, letterY: 515});
violinPanel([
  {vy: gCtrlVy, vw: gCtrlVw, pts: gCtrlPts, box: gCtrlBox, fill: "#c4c4c4", op: 0.85, dot: "#111"},
  {vy: gExpVy, vw: gExpVw, pts: gExpPts, box: gExpBox, fill: "#eeb0b9", op: 0.8, dot: "#c4122a"}
], {yTop: 772.7, yBot: 919.3, xEnd: 716.7, maxW: 18, catY: 936, ulX0: 606, ulX1: 700.7, ulY: 943.3,
  geno: "Basin4>Chrimson", genoY: 960, sig: null, letter: "G", letterX: 516, letterY: 758});
</script></body></html>
